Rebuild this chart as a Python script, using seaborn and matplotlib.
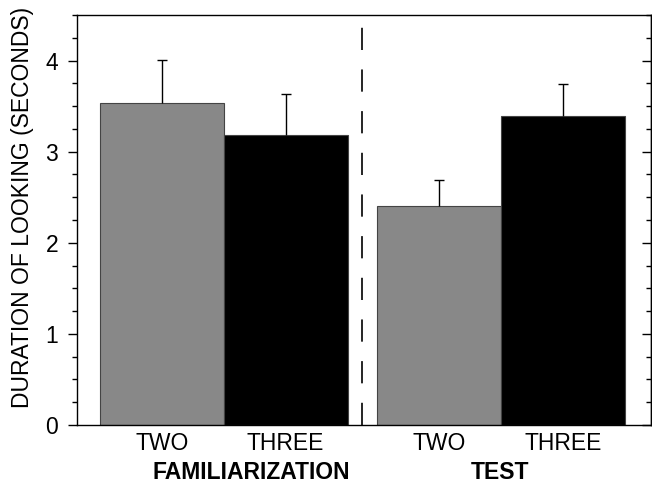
import numpy as np
import pandas as pd
import matplotlib
matplotlib.use("Agg")
import matplotlib.pyplot as plt
import matplotlib.transforms as mtransforms
from matplotlib.ticker import MultipleLocator
import seaborn as sns

# values
phase = ["FAMILIARIZATION", "FAMILIARIZATION", "TEST", "TEST"]
number = ["TWO", "THREE", "TWO", "THREE"]
looking = [3.53, 3.18, 2.40, 3.39]
sem = [0.48, 0.45, 0.29, 0.35]

group_gap = 0.24
pos = [0, 1, 2 + group_gap, 3 + group_gap]

df = pd.DataFrame({"pos": pos, "phase": phase, "number": number,
                   "looking": looking, "sem": sem})

sns.set_style("ticks", {"text.color": "black", "axes.labelcolor": "black",
                        "xtick.color": "black", "ytick.color": "black",
                        "axes.edgecolor": "black"})
plt.rcParams["font.family"] = ["Liberation Sans", "DejaVu Sans"]
plt.rcParams["lines.scale_dashes"] = False

fig = plt.figure(figsize=(6.52, 4.86), dpi=100)
ax = fig.add_axes([0.118, 0.1255, 0.8805, 0.8435])

sns.barplot(data=df, x="pos", y="looking", hue="number",
            palette={"TWO": "#888888", "THREE": "black"},
            native_scale=True, dodge=False, width=1.0,
            edgecolor="#444444", linewidth=0.8, errorbar=None,
            legend=False, ax=ax)
eb = ax.errorbar(df["pos"], df["looking"],
                 yerr=[np.zeros(len(df)), df["sem"]],
                 fmt="none", ecolor="black", elinewidth=1.0,
                 capsize=3.4, capthick=1.0)
# keep only the upper caps
eb[1][0].remove()

# dashed divider between the two phases
ax.axvline(1.5 + group_gap / 2, color="black", lw=1.2,
           linestyle=(0, (16, 14)))

ax.set_xlim(-0.685, 3.95)
ax.set_ylim(0, 4.5)
ax.set_xticks(pos)
ax.set_xticklabels(number, fontsize=16.5)
ax.tick_params(axis="x", length=0, pad=5)
ax.yaxis.set_major_locator(MultipleLocator(1))
ax.yaxis.set_minor_locator(MultipleLocator(0.25))
ax.tick_params(axis="y", which="major", length=6.5, width=1,
               direction="out", labelsize=16.5, pad=7)
ax.tick_params(axis="y", which="minor", length=3.4, width=1,
               direction="out")
ax.set_xlabel("")
ax.set_ylabel("DURATION OF LOOKING (SECONDS)", fontsize=16.5)
ax.yaxis.set_label_coords(-0.075, 0.53)

# inward ticks on the right edge
rax = ax.secondary_yaxis("right")
rax.yaxis.set_major_locator(MultipleLocator(1))
rax.yaxis.set_minor_locator(MultipleLocator(0.25))
rax.tick_params(which="major", length=6.5, width=1, direction="in",
                labelright=False)
rax.tick_params(which="minor", length=3.4, width=1, direction="in")
rax.spines["right"].set_linewidth(1.0)

for side in ["top", "right", "bottom", "left"]:
    ax.spines[side].set_visible(True)
    ax.spines[side].set_color("black")
    ax.spines[side].set_linewidth(1.0)

# group labels under the tick labels
trans = mtransforms.blended_transform_factory(ax.transAxes, fig.transFigure)
ax.text(0.303, 0.027, "FAMILIARIZATION", transform=trans,
        ha="center", va="center", fontsize=16.5, fontweight="bold")
ax.text(0.737, 0.027, "TEST", transform=trans,
        ha="center", va="center", fontsize=16.5, fontweight="bold")

fig.savefig("out.png", dpi=100)
